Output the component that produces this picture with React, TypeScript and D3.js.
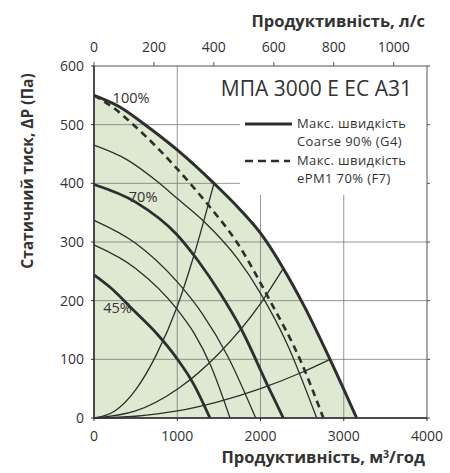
import React from 'react';
import * as d3 from 'd3';

type Pt = [number, number];

// axes
const flowTicks = [0, 1000, 2000, 3000, 4000];
const litreTicks = [0, 200, 400, 600, 800, 1000];
const pressureTicks = [0, 100, 200, 300, 400, 500, 600];

// fan curves, [м³/год, Па]
const maxCoarse: Pt[] = [[0, 550], [300, 531], [613, 500], [1000, 457], [1441, 400], [1750, 356], [2000, 315], [2274, 255], [2520, 192], [2835, 100], [3155, 0]];
const maxEpm1: Pt[] = [[0, 550], [250, 527], [472, 500], [800, 455], [1153, 400], [1373, 363], [1714, 300], [2114, 200], [2474, 100], [2755, 0]];
const speedA: Pt[] = [[0, 465], [400, 440], [761, 403], [1001, 374], [1321, 335], [1722, 272], [2002, 212], [2314, 128], [2675, 0]];
const speed70: Pt[] = [[0, 398], [500, 368], [1000, 312], [1250, 268], [1514, 213], [1774, 150], [2094, 53], [2274, 0]];
const speedB: Pt[] = [[0, 337], [500, 298], [1000, 232], [1300, 178], [1600, 107], [1942, 0]];
const speedC: Pt[] = [[0, 295], [500, 255], [1000, 185], [1200, 145], [1400, 90], [1634, 0]];
const speed45: Pt[] = [[0, 244], [200, 222], [472, 184], [753, 144], [993, 102], [1200, 57], [1393, 0]];

// system curves
const system1: Pt[] = [[0, 0], [250, 12], [500, 48], [750, 108], [1000, 190], [1200, 277], [1441, 400]];
const system2: Pt[] = [[0, 0], [500, 12], [1000, 49], [1500, 110], [2000, 195], [2274, 255]];
const system3: Pt[] = [[0, 0], [500, 3], [1000, 12], [1500, 28], [2000, 50], [2500, 78], [2835, 100]];

const speedLabels: { text: string; q: number; p: number }[] = [
  { text: '100%', q: 445, p: 537 },
  { text: '70%', q: 590, p: 368 },
  { text: '45%', q: 282, p: 179 },
];

const legendLines = ['Макс. швидкість', 'Coarse 90% (G4)', 'Макс. швидкість', 'ePM1 70% (F7)'];

const W = 450;
const H = 473;
const margin = { top: 66, right: 23, bottom: 55, left: 94 };
const font = '"Open Sans", sans-serif';
const ink = '#2e2e2e';

export default function App() {
  const x = d3.scaleLinear().domain([0, 4000]).range([margin.left, W - margin.right]);
  const xl = d3.scaleLinear().domain([0, 4000 / 3.6]).range([margin.left, W - margin.right]);
  const y = d3.scaleLinear().domain([0, 600]).range([H - margin.bottom, margin.top]);

  const line = d3.line<Pt>()
    .x(d => x(d[0]))
    .y(d => y(d[1]))
    .curve(d3.curveMonotoneX);

  const area = d3.area<Pt>()
    .x(d => x(d[0]))
    .y0(y(0))
    .y1(d => y(d[1]))
    .curve(d3.curveMonotoneX);

  const x0 = x(0), x1 = x(4000), yTop = y(600), yBot = y(0);

  const curve = (data: Pt[], width: number, dash?: string) => (
    <path d={line(data) || ''} fill="none" stroke={ink} strokeWidth={width} strokeDasharray={dash} />
  );

  const legendY = [128, 146, 165, 183];

  return (
    <svg width={W} height={H} style={{ position: 'absolute', left: 0, top: 0, background: '#fff' }} fontFamily={font}>
      {/* working area */}
      <path d={area(maxCoarse) || ''} fill="#dde9d0" />

      {/* grid */}
      {pressureTicks.slice(1, -1).map(t => (
        <line key={'h' + t} x1={x0} x2={x1} y1={y(t)} y2={y(t)} stroke="#7a7a7a" strokeWidth={0.8} />
      ))}
      {flowTicks.slice(1, -1).map(t => (
        <line key={'v' + t} x1={x(t)} x2={x(t)} y1={yTop} y2={yBot} stroke="#7a7a7a" strokeWidth={0.8} />
      ))}

      {/* legend box */}
      <rect x={240} y={yTop} width={x1 - 240} height={129} fill="#fff" />

      {/* system curves */}
      {curve(system1, 1.3)}
      {curve(system2, 1.3)}
      {curve(system3, 1.3)}

      {/* fan curves */}
      {curve(speedC, 1.3)}
      {curve(speedB, 1.3)}
      {curve(speedA, 1.3)}
      {curve(speed45, 2.8)}
      {curve(speed70, 2.8)}
      {curve(maxEpm1, 2.6, '7 5')}
      {curve(maxCoarse, 3)}

      {speedLabels.map(l => (
        <text key={l.text} x={x(l.q)} y={y(l.p)} fontSize={14.5} fill="#333" textAnchor="middle">{l.text}</text>
      ))}

      {/* frame */}
      <rect x={x0} y={yTop} width={x1 - x0} height={yBot - yTop} fill="none" stroke="#555" strokeWidth={1} />
      <line x1={x0} x2={x0} y1={yTop} y2={yBot} stroke={ink} strokeWidth={1.5} />
      <line x1={x0} x2={x1} y1={yBot} y2={yBot} stroke={ink} strokeWidth={1.5} />

      {/* left axis */}
      {pressureTicks.map(t => (
        <g key={'l' + t}>
          <line x1={x0 - 3} x2={x0} y1={y(t)} y2={y(t)} stroke={ink} />
          <line x1={x1} x2={x1 + 3} y1={y(t)} y2={y(t)} stroke="#555" />
          <text x={x0 - 10} y={y(t) + 5} fontSize={14} fill="#333" textAnchor="end">{t}</text>
        </g>
      ))}

      {/* bottom axis */}
      {flowTicks.map(t => (
        <g key={'b' + t}>
          <line x1={x(t)} x2={x(t)} y1={yBot} y2={yBot + 3} stroke={ink} />
          <text x={x(t)} y={yBot + 23} fontSize={14} fill="#333" textAnchor="middle">{t}</text>
        </g>
      ))}

      {/* top axis, l/s */}
      {litreTicks.map(t => (
        <g key={'t' + t}>
          <line x1={xl(t)} x2={xl(t)} y1={yTop - 4} y2={yTop} stroke="#555" />
          <text x={xl(t)} y={yTop - 14} fontSize={14} fill="#333" textAnchor="middle">{t}</text>
        </g>
      ))}

      {/* titles */}
      <text x={425} y={27} fontSize={16.5} fontWeight="bold" fill="#333" textAnchor="end">Продуктивність, л/с</text>
      <text x={425} y={463} fontSize={16.5} fontWeight="bold" fill="#333" textAnchor="end">
        Продуктивність, м<tspan dy={-5} fontSize={10.5}>3</tspan><tspan dy={5}>/год</tspan>
      </text>
      <text transform="translate(33,171) rotate(-90)" fontSize={15.5} fontWeight="bold" fill="#333" textAnchor="middle">
        Статичний тиск, ΔP (Па)
      </text>

      {/* legend */}
      <text x={412} y={96} fontSize={21} fill="#333" textAnchor="end">МПА 3000 Е ЕС А31</text>
      <line x1={245} x2={292} y1={124} y2={124} stroke={ink} strokeWidth={3} />
      <line x1={245} x2={290} y1={161} y2={161} stroke={ink} strokeWidth={2.6} strokeDasharray="8 5" />
      {legendLines.map((t, i) => (
        <text key={i} x={297} y={legendY[i]} fontSize={13} letterSpacing={0.4} fill="#333">{t}</text>
      ))}
    </svg>
  );
}
